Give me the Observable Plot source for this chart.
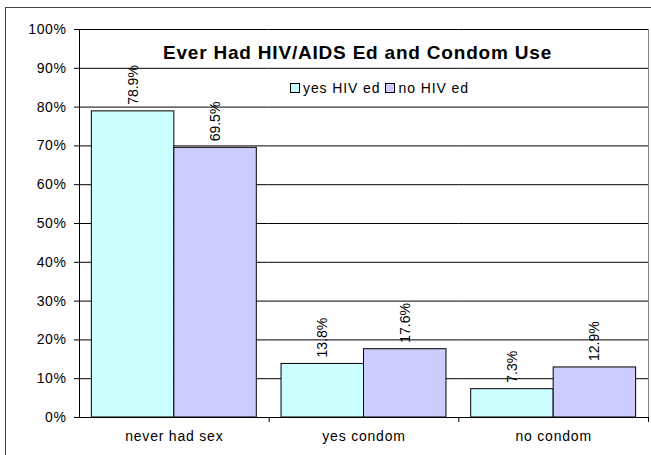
<!DOCTYPE html>
<html>
<head>
<meta charset="utf-8">
<script src="https://cdn.jsdelivr.net/npm/d3@7"></script>
<script src="https://cdn.jsdelivr.net/npm/@observablehq/plot@0.6"></script>
<style>
  html, body { margin: 0; padding: 0; background: #fff; }
  #chart { position: relative; width: 651px; height: 455px; overflow: hidden;
           font-family: Arial, "Liberation Sans", sans-serif; color: #000; }
  #border { position: absolute; left: 5px; top: 7px; width: 700px; height: 520px;
            border: 1px solid #444; box-sizing: border-box; pointer-events: none; }
  #plot { position: absolute; left: 0; top: 0; }
  #plot g[aria-label="y-axis tick label"] text { letter-spacing: 0.6px; }
  #plot g[aria-label="fx-axis tick label"] text { letter-spacing: 0.8px; }
  #title { position: absolute; left: 0; top: 42.5px; width: 715px; text-align: center;
           font-weight: bold; font-size: 19px; line-height: 19px; letter-spacing: 0.8px; white-space: nowrap; }
  #legend { position: absolute; left: 290px; top: 80.5px; display: flex; align-items: center;
            font-size: 14px; line-height: 14px; letter-spacing: 0.9px; white-space: nowrap; }
  #legend .item { display: flex; align-items: center; margin-right: 5px; }
  #legend .swatch { width: 8px; height: 8px; border: 1px solid #000; margin-right: 3px; }
</style>
</head>
<body>
<div id="chart">
  <div id="plot"></div>
  <div id="border"></div>
  <div id="title"></div>
  <div id="legend"></div>
</div>
<script>
// Survey categories and the share of students in each, split by HIV/AIDS education
const categories = ["never had sex", "yes condom", "no condom"];
const series = ["yes HIV ed", "no HIV ed"];
const yesHivEd = [0.789, 0.138, 0.073];
const noHivEd = [0.695, 0.176, 0.129];
const seriesColors = ["#CCFFFF", "#CCCCFF"];
const yTicks = [0, 0.1, 0.2, 0.3, 0.4, 0.5, 0.6, 0.7, 0.8, 0.9, 1];
const titleText = "Ever Had HIV/AIDS Ed and Condom Use";

const rows = categories.flatMap((category, i) => [
  {category, series: series[0], value: yesHivEd[i]},
  {category, series: series[1], value: noHivEd[i]}
]);

const width = 651, height = 455;
const marginTop = 29, marginBottom = 38, marginLeft = 79, marginRight = 3;
const plotHeight = height - marginTop - marginBottom;
const pct = d3.format(".1%");

const chart = Plot.plot({
  width, height, marginTop, marginBottom, marginLeft, marginRight,
  style: {fontFamily: "Arial, 'Liberation Sans', sans-serif", fontSize: "14px", background: "transparent", color: "#000"},
  fx: {domain: categories, padding: 0, round: false, label: null},
  x: {domain: series, paddingInner: 0, paddingOuter: 0.15, round: false, axis: null},
  y: {domain: [0, 1], label: null},
  color: {domain: series, range: seriesColors},
  marks: [
    Plot.gridY(yTicks, {stroke: "#000", strokeOpacity: 1}),
    Plot.barY(rows, {fx: "category", x: "series", y: "value", fill: "series", stroke: "#000", strokeWidth: 1}),
    Plot.text(rows, {fx: "category", x: "series", y: "value", text: d => pct(d.value),
      rotate: -90, textAnchor: "start", dy: -6.5, fontSize: 14, fill: "#000"}),
    Plot.axisY(yTicks, {tickFormat: d3.format(".0%"), tickSize: 5, tickPadding: 8, label: null, fontSize: 14, stroke: "#000"}),
    Plot.axisFx({anchor: "bottom", tickSize: 0, tickPadding: 14, label: null, fontSize: 14}),
    // value axis line on the first category
    Plot.frame({anchor: "left", fx: [categories[0]], stroke: "#000"}),
    // plot-area edge on the right
    Plot.frame({anchor: "right", fx: [categories[2]], stroke: "#808080", insetBottom: -4}),
    // small tick marks between categories below the baseline
    Plot.frame({anchor: "right", insetTop: plotHeight, insetBottom: -4, stroke: "#000"})
  ]
});
document.getElementById("plot").appendChild(chart);

document.getElementById("title").textContent = titleText;
const legend = document.getElementById("legend");
series.forEach((s, i) => {
  const item = document.createElement("div");
  item.className = "item";
  const sw = document.createElement("span");
  sw.className = "swatch";
  sw.style.background = seriesColors[i];
  const label = document.createElement("span");
  label.textContent = s;
  item.appendChild(sw);
  item.appendChild(label);
  legend.appendChild(item);
});
</script>
</body>
</html>
